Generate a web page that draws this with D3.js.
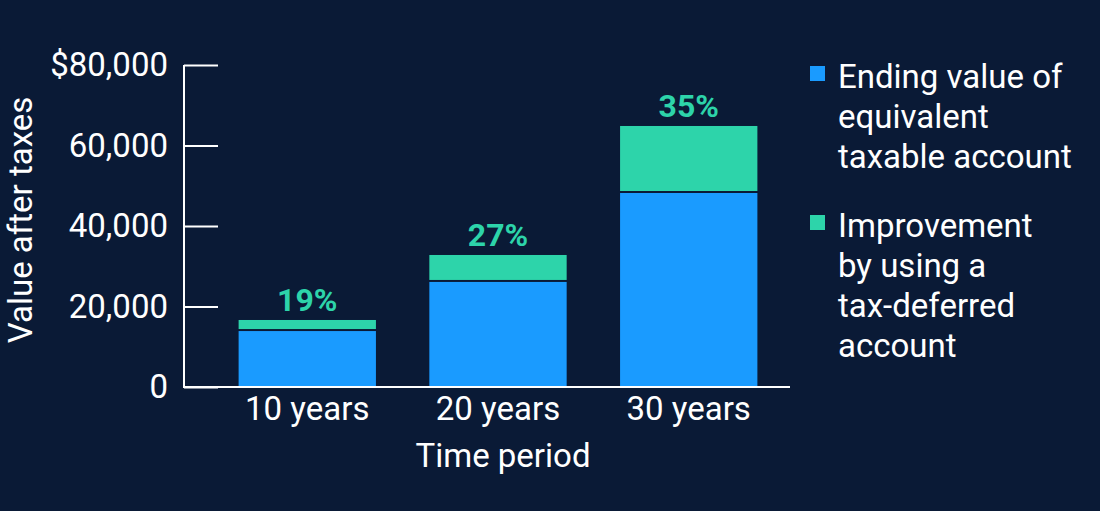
<!DOCTYPE html>
<html><head><meta charset="utf-8">
<script src="https://cdn.jsdelivr.net/npm/d3@7"></script>
<style>body{margin:0;background:#0a1a36;} text{font-family:Roboto,sans-serif;}</style>
</head><body><svg width="1100" height="511"></svg>
<script>
const periods = ["10 years", "20 years", "30 years"];
const taxable = [13900, 26100, 48200];
const improvement = [2750, 6700, 16650];
const pctLabels = ["19%", "27%", "35%"];
const yTicks = [0, 20000, 40000, 60000, 80000];
const legendItems = [
  { color: "#1a9bff", lines: ["Ending value of", "equivalent", "taxable account"] },
  { color: "#2dd4aa", lines: ["Improvement", "by using a", "tax-deferred", "account"] }
];

const svg = d3.select("svg");
svg.append("rect").attr("width", 1100).attr("height", 511).attr("fill", "#0a1a36");

const x = d3.scaleBand().domain(periods).range([210, 786]).paddingInner(0.28).paddingOuter(0.15);
const y = d3.scaleLinear().domain([0, 80000]).range([387, 65]);

// Bars
const g = svg.append("g");
periods.forEach((p, i) => {
  g.append("rect").attr("x", x(p)).attr("width", x.bandwidth())
    .attr("y", y(taxable[i])).attr("height", y(0) - y(taxable[i])).attr("fill", "#1a9bff");
  const top = taxable[i] + improvement[i];
  g.append("rect").attr("x", x(p)).attr("width", x.bandwidth())
    .attr("y", y(top)).attr("height", y(taxable[i]) - y(top) - 2).attr("fill", "#2dd4aa");
  g.append("text").attr("x", x(p) + x.bandwidth() / 2).attr("y", y(top) - 9)
    .attr("text-anchor", "middle").attr("fill", "#2dd4aa")
    .style("font-size", "32px").style("font-weight", "bold").text(pctLabels[i]);
});

// Y axis
const yAxis = svg.append("g").attr("transform", "translate(184,0)")
  .call(d3.axisRight(y).tickValues(yTicks).tickSize(34).tickFormat(() => ""));
yAxis.select(".domain").remove();
yAxis.selectAll("line").attr("stroke", "#fff").attr("stroke-width", 2);
svg.append("line").attr("x1", 184).attr("x2", 184).attr("y1", 65).attr("y2", 387)
  .attr("stroke", "#fff").attr("stroke-width", 2);
svg.append("line").attr("x1", 183).attr("x2", 790).attr("y1", 387).attr("y2", 387)
  .attr("stroke", "#fff").attr("stroke-width", 2);
yTicks.forEach(t => {
  svg.append("text").attr("x", 168).attr("y", y(t) + 11).attr("text-anchor", "end")
    .attr("fill", "#fff").style("font-size", "33px")
    .text(t === 80000 ? "$80,000" : d3.format(",")(t));
});

// X labels
periods.forEach(p => {
  svg.append("text").attr("x", x(p) + x.bandwidth() / 2).attr("y", 420)
    .attr("text-anchor", "middle").attr("fill", "#fff").style("font-size", "33px").text(p);
});
svg.append("text").attr("x", 503).attr("y", 467).attr("text-anchor", "middle")
  .attr("fill", "#fff").style("font-size", "33px").text("Time period");
svg.append("text").attr("transform", "translate(32,220) rotate(-90)")
  .attr("text-anchor", "middle").attr("fill", "#fff").style("font-size", "33px").text("Value after taxes");

// Legend
let ly = 76;
legendItems.forEach(item => {
  svg.append("rect").attr("x", 810).attr("y", ly - 10).attr("width", 15).attr("height", 15).attr("fill", item.color);
  item.lines.forEach((l, j) => {
    svg.append("text").attr("x", 838).attr("y", ly + 12 + j * 40).attr("fill", "#fff")
      .style("font-size", "33px").text(l);
  });
  ly += 149;
});
</script></body></html>
